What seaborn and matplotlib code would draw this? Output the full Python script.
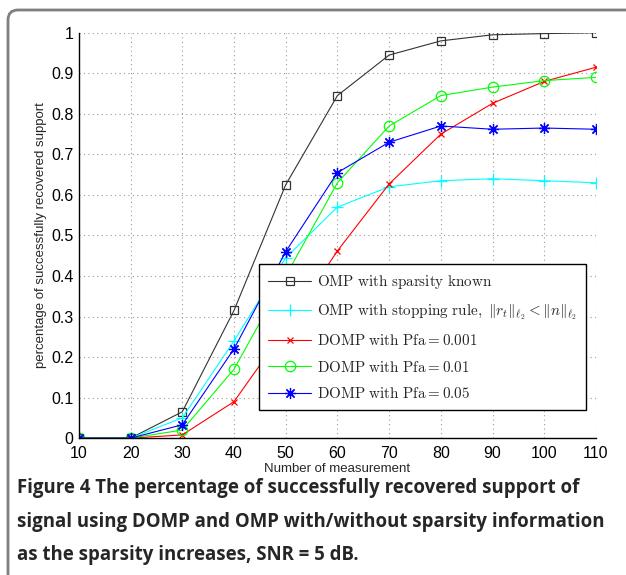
import numpy as np
import pandas as pd
import matplotlib
matplotlib.use('Agg')
import matplotlib.pyplot as plt
import seaborn as sns
from matplotlib.patches import FancyBboxPatch
from matplotlib.transforms import IdentityTransform

# values
measurements = [10, 20, 30, 40, 50, 60, 70, 80, 90, 100, 110]
omp_known = [0, 0, 0.065, 0.315, 0.625, 0.845, 0.945, 0.98, 0.995, 0.998, 1.0]
omp_stop = [0, 0, 0.05, 0.24, 0.445, 0.57, 0.62, 0.635, 0.64, 0.635, 0.63]
domp_001 = [0, 0, 0.008, 0.09, 0.27, 0.462, 0.627, 0.75, 0.826, 0.88, 0.915]
domp_01 = [0, 0, 0.02, 0.17, 0.40, 0.63, 0.77, 0.845, 0.866, 0.882, 0.89]
domp_05 = [0, 0, 0.033, 0.22, 0.46, 0.655, 0.73, 0.77, 0.762, 0.765, 0.762]

labels = [
    r'$\mathrm{OMP\ with\ sparsity\ known}$',
    r'$\mathrm{OMP\ with\ stopping\ rule,}\ \|r_t\|_{\ell_2} < \|n\|_{\ell_2}$',
    r'$\mathrm{DOMP\ with\ Pfa} = 0.001$',
    r'$\mathrm{DOMP\ with\ Pfa} = 0.01$',
    r'$\mathrm{DOMP\ with\ Pfa} = 0.05$',
]
series = [omp_known, omp_stop, domp_001, domp_01, domp_05]
colors = ['#333333', '#00ffff', '#ff0000', '#00ff00', '#0000ff']
markers = ['s', '+', 'x', 'o', (8, 2, 0)]
msizes = [6, 8, 5, 7.5, 8]

sns.set_style('white')
plt.rcParams['font.family'] = ['Liberation Sans', 'DejaVu Sans']
plt.rcParams['mathtext.fontset'] = 'cm'

fig = plt.figure(figsize=(6.26, 5.75), dpi=100)
ax = fig.add_axes([0.126, 0.238, 0.826, 0.705])

for vals, lab, c, m, ms in zip(series, labels, colors, markers, msizes):
    df = pd.DataFrame({'x': measurements, 'y': vals})
    sns.lineplot(data=df, x='x', y='y', ax=ax, color=c, marker=m, markersize=ms,
                 markerfacecolor='none', markeredgecolor=c, markeredgewidth=0.9,
                 linewidth=0.8, label=lab)

ax.set_xlim(10, 110)
ax.set_ylim(0, 1)
ax.set_xticks(measurements)
ax.set_yticks(np.arange(0, 1.01, 0.1))
ax.set_yticklabels(['0', '0.1', '0.2', '0.3', '0.4', '0.5', '0.6', '0.7', '0.8', '0.9', '1'])
ax.tick_params(direction='in', length=4, labelsize=11.5, width=1, colors='black')
ax.tick_params(axis='x', pad=6)
ax.tick_params(axis='y', pad=4)
ax.grid(True, linestyle=(0, (1, 3)), color='#999999', linewidth=0.8)
for s in ['top', 'right']:
    ax.spines[s].set_visible(False)
for s in ['left', 'bottom']:
    ax.spines[s].set_color('black')
    ax.spines[s].set_linewidth(1)
ax.set_xlabel('Number of measurement', fontsize=9.5, labelpad=1)
ax.set_ylabel('percentage of successfully recovered support', fontsize=9.5, labelpad=3)

leg = ax.legend(loc='lower right', bbox_to_anchor=(0.981, 0.069), borderaxespad=0, fontsize=10.9,
                frameon=True, fancybox=False, edgecolor='black', framealpha=1,
                handlelength=2.8, borderpad=0.6, labelspacing=0.75, handletextpad=0.4)
leg.get_frame().set_linewidth(1)

# rounded frame around the figure panel
frame = FancyBboxPatch((8, -40), 700, 605, boxstyle='round,pad=0,rounding_size=10',
                       transform=IdentityTransform(), facecolor='none', edgecolor='#7f7f7f', linewidth=2)
fig.add_artist(frame)

caption = ['Figure 4 The percentage of successfully recovered support of',
           'signal using DOMP and OMP with/without sparsity information',
           'as the sparsity increases, SNR = 5 dB.']
for i, line in enumerate(caption):
    fig.text(0.027, 0.151 - i * 0.058, line, fontsize=13.4, fontweight='bold',
             family=['Open Sans', 'DejaVu Sans'], va='center')

fig.savefig('out.png', dpi=100)
